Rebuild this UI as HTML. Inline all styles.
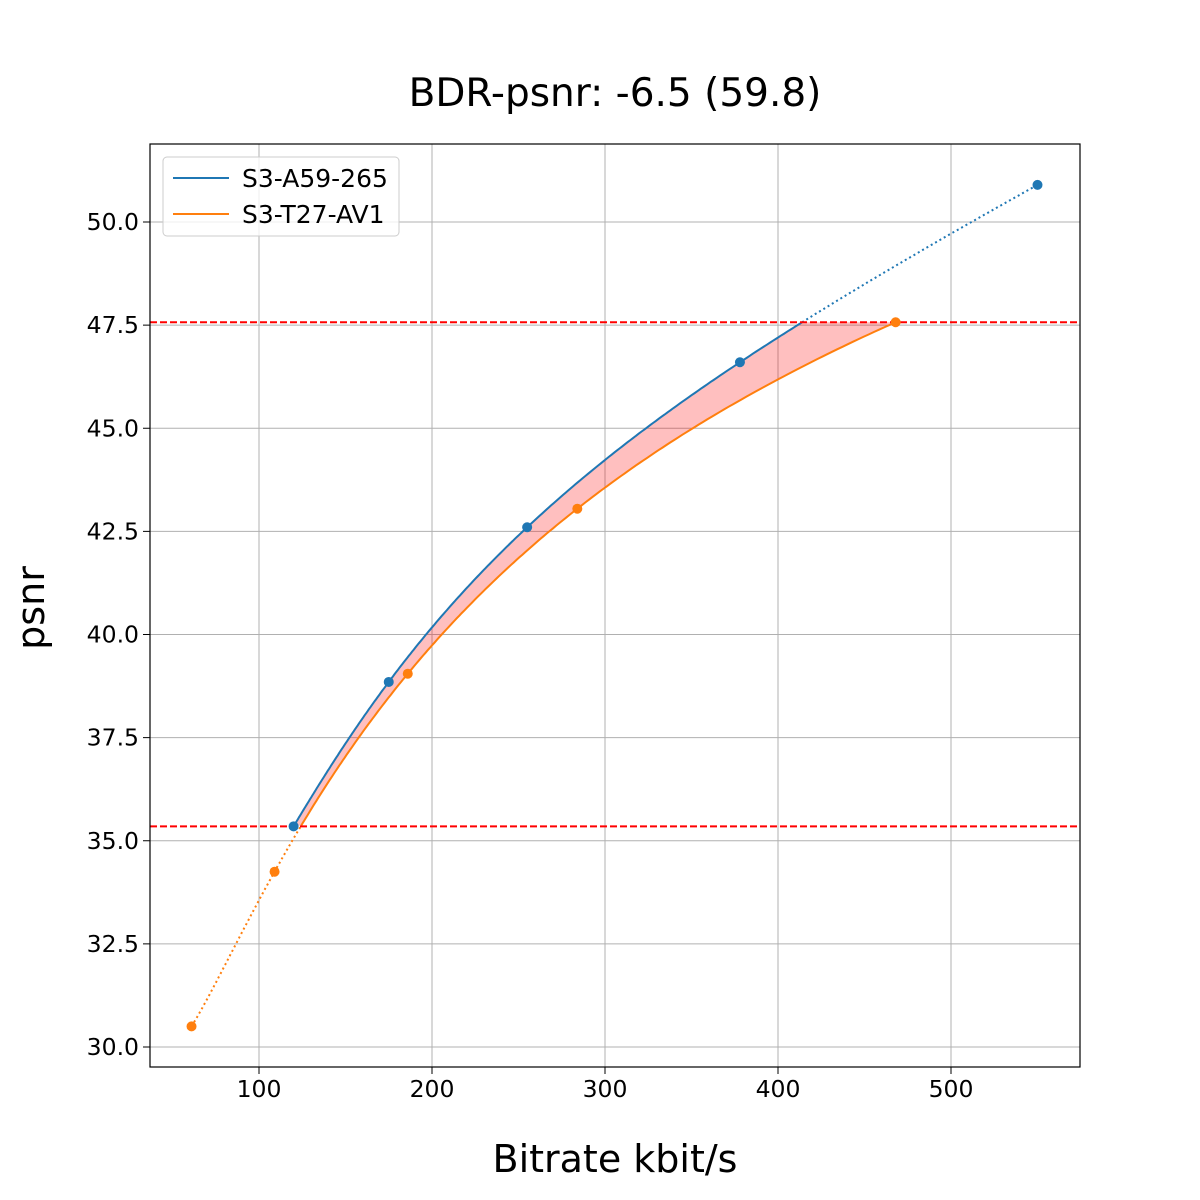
<!DOCTYPE html>
<html><head><meta charset="utf-8"><style>
body{margin:0;background:#fff}
svg{display:block;font-family:"DejaVu Sans","Liberation Sans",sans-serif}
</style></head><body>
<svg id="s" width="1200" height="1200" xmlns="http://www.w3.org/2000/svg">
<rect width="1200" height="1200" fill="#fff"/>
<g id="grid" stroke="#b0b0b0" stroke-width="1"></g>
<g id="plot"></g>
<rect x="150" y="144" width="930" height="923" fill="none" stroke="#000" stroke-width="1.2"/>
<g id="ticks" font-size="23.5" fill="#000"></g>
<text x="615" y="106" font-size="39" text-anchor="middle">BDR-psnr: -6.5 (59.8)</text>
<text x="615" y="1172" font-size="38" text-anchor="middle">Bitrate kbit/s</text>
<text transform="translate(44,608) rotate(-90)" font-size="38" text-anchor="middle">psnr</text>
<g>
<rect x="163" y="157" width="236" height="79" rx="4" fill="#fff" fill-opacity="0.8" stroke="#ccc"/>
<line x1="173" y1="178" x2="229" y2="178" stroke="#1f77b4" stroke-width="2"/>
<text x="242" y="187" font-size="25">S3-A59-265</text>
<line x1="173" y1="214" x2="229" y2="214" stroke="#ff7f0e" stroke-width="2"/>
<text x="242" y="223" font-size="25">S3-T27-AV1</text>
</g>
</svg>
<script>
const X=r=>86+r*1.73, Y=v=>1047-(v-30)*41.25;
const NS="http://www.w3.org/2000/svg";
function el(p,t,a){const e=document.createElementNS(NS,t);for(const k in a)e.setAttribute(k,a[k]);document.getElementById(p).appendChild(e);return e;}
[100,200,300,400,500].forEach(r=>{el("grid","line",{x1:X(r),x2:X(r),y1:144,y2:1067});el("ticks","line",{x1:X(r),x2:X(r),y1:1067,y2:1074,stroke:"#000"});
 const t=el("ticks","text",{x:X(r),y:1097,"text-anchor":"middle"});t.textContent=r;});
for(let v=30;v<=50.01;v+=2.5){el("grid","line",{x1:150,x2:1080,y1:Y(v),y2:Y(v)});el("ticks","line",{x1:143,x2:150,y1:Y(v),y2:Y(v),stroke:"#000"});
 const t=el("ticks","text",{x:139,y:Y(v)+8,"text-anchor":"end"});t.textContent=v.toFixed(1);}
const B=[[120,35.35],[175,38.85],[255,42.6],[378,46.6],[550,50.9]];
const O=[[61,30.5],[109,34.25],[186,39.05],[284,43.05],[468,47.57]];
function lag(P,r){const x=Math.log(r);let s=0;for(let i=0;i<P.length;i++){let l=1;for(let j=0;j<P.length;j++)if(j!=i)l*=(x-Math.log(P[j][0]))/(Math.log(P[i][0])-Math.log(P[j][0]));s+=l*P[i][1];}return s;}
function samp(P,a,b){const o=[];for(let i=0;i<=300;i++){const r=a*Math.pow(b/a,i/300);o.push([r,lag(P,r)]);}return o;}
const lo=35.35,hi=47.57;
const bs=samp(B,120,550), os=samp(O,61,468);
const bIn=bs.filter(p=>p[1]<=hi), oIn=os.filter(p=>p[1]>=lo);
const pts=a=>a.map(p=>X(p[0]).toFixed(1)+","+Y(p[1]).toFixed(1)).join(" ");
el("plot","polygon",{points:pts(bIn)+" "+pts(oIn.slice().reverse()),fill:"#ff0000","fill-opacity":0.25,stroke:"none"});
el("plot","polyline",{points:pts(bIn),fill:"none",stroke:"#1f77b4","stroke-width":2});
el("plot","polyline",{points:pts(bs.filter(p=>p[1]>=hi-0.05)),fill:"none",stroke:"#1f77b4","stroke-width":2,"stroke-dasharray":"2,3"});
el("plot","polyline",{points:pts(oIn),fill:"none",stroke:"#ff7f0e","stroke-width":2});
el("plot","polyline",{points:pts(os.filter(p=>p[1]<=lo+0.05)),fill:"none",stroke:"#ff7f0e","stroke-width":2,"stroke-dasharray":"2,3"});
[lo,hi].forEach(v=>el("plot","line",{x1:150,x2:1080,y1:Y(v),y2:Y(v),stroke:"#ff0000","stroke-width":2,"stroke-dasharray":"7,3"}));
B.forEach(p=>el("plot","circle",{cx:X(p[0]),cy:Y(p[1]),r:5,fill:"#1f77b4"}));
O.forEach(p=>el("plot","circle",{cx:X(p[0]),cy:Y(p[1]),r:5,fill:"#ff7f0e"}));
</script>
</body></html>
